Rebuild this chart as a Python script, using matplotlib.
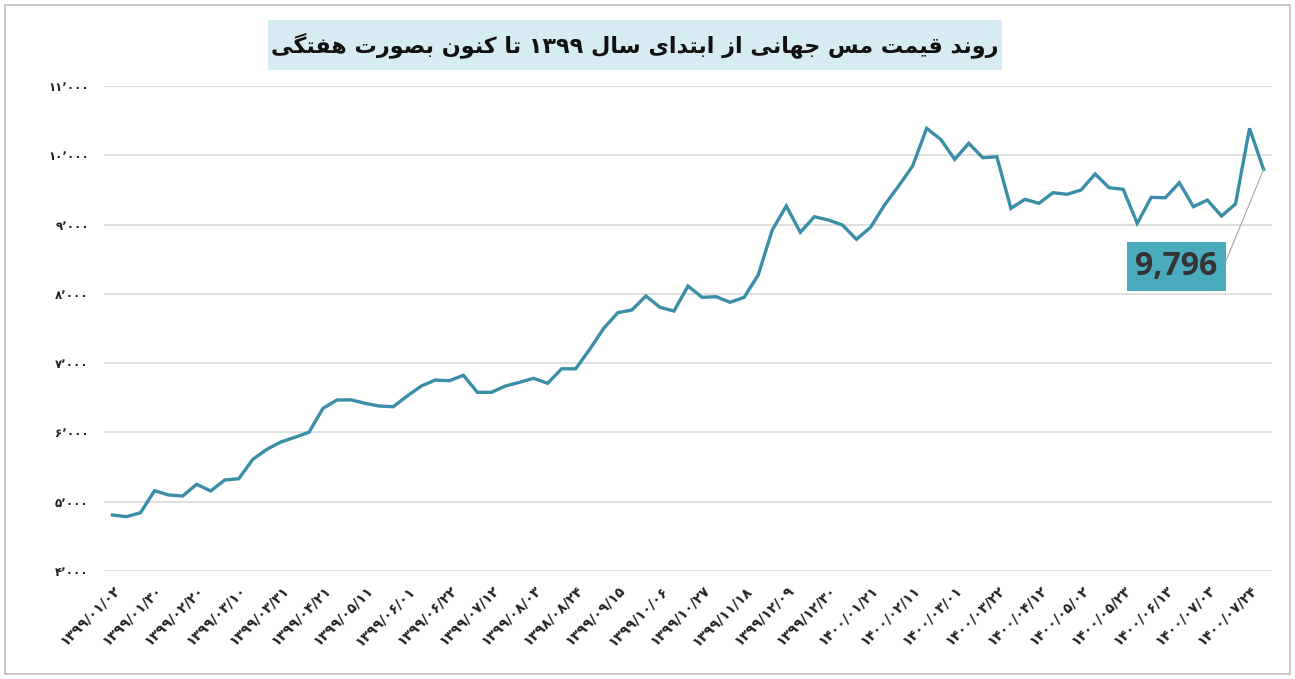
import matplotlib
matplotlib.use('Agg')
import matplotlib.pyplot as plt
from matplotlib.patches import Rectangle

plt.rcParams['font.family'] = ['DejaVu Sans']

# قیمت هفتگی مس (دلار بر تن)
prices = [4808, 4784, 4841, 5159, 5097, 5082, 5251, 5155, 5313, 5332,
          5612, 5756, 5862, 5930, 6002, 6348, 6468, 6470, 6420, 6381,
          6371, 6526, 6670, 6756, 6746, 6824, 6579, 6579, 6670, 6723,
          6781, 6709, 6919, 6919, 7200, 7503, 7728, 7767, 7969, 7806,
          7752, 8113, 7950, 7959, 7878, 7950, 8272, 8921, 9268, 8888,
          9113, 9066, 8994, 8787, 8960, 9282, 9556, 9845, 10389, 10230,
          9942, 10173, 9965, 9979, 9234, 9364, 9307, 9460, 9437, 9499,
          9730, 9532, 9509, 9018, 9393, 9387, 9604, 9258, 9354, 9123,
          9297, 10389, 9796]

# برچسب تاریخ ها (هر سه هفته یک برچسب)
date_labels = ['۱۳۹۹/۰۱/۰۲', '۱۳۹۹/۰۱/۳۰', '۱۳۹۹/۰۲/۲۰', '۱۳۹۹/۰۳/۱۰',
               '۱۳۹۹/۰۳/۳۱', '۱۳۹۹/۰۴/۲۱', '۱۳۹۹/۰۵/۱۱', '۱۳۹۹/۰۶/۰۱',
               '۱۳۹۹/۰۶/۲۲', '۱۳۹۹/۰۷/۱۲', '۱۳۹۹/۰۸/۰۳', '۱۳۹۸/۰۸/۲۴',
               '۱۳۹۹/۰۹/۱۵', '۱۳۹۹/۱۰/۰۶', '۱۳۹۹/۱۰/۲۷', '۱۳۹۹/۱۱/۱۸',
               '۱۳۹۹/۱۲/۰۹', '۱۳۹۹/۱۲/۳۰', '۱۴۰۰/۰۱/۲۱', '۱۴۰۰/۰۲/۱۱',
               '۱۴۰۰/۰۳/۰۱', '۱۴۰۰/۰۳/۲۲', '۱۴۰۰/۰۴/۱۲', '۱۴۰۰/۰۵/۰۲',
               '۱۴۰۰/۰۵/۲۳', '۱۴۰۰/۰۶/۱۳', '۱۴۰۰/۰۷/۰۳', '۱۴۰۰/۰۷/۲۴']
label_step = 3

y_ticks = [4000, 5000, 6000, 7000, 8000, 9000, 10000, 11000]

title = 'روند قیمت مس جهانی از ابتدای سال ۱۳۹۹ تا کنون بصورت هفتگی'
last_label = '9,796'

# شکل های حروف: (تنها، پایانی، آغازی، میانی)
FORMS = {
    'ا': ('\uFE8D', '\uFE8E', None, None),
    'ب': ('\uFE8F', '\uFE90', '\uFE91', '\uFE92'),
    'ت': ('\uFE95', '\uFE96', '\uFE97', '\uFE98'),
    'ج': ('\uFE9D', '\uFE9E', '\uFE9F', '\uFEA0'),
    'د': ('\uFEA9', '\uFEAA', None, None),
    'ر': ('\uFEAD', '\uFEAE', None, None),
    'ز': ('\uFEAF', '\uFEB0', None, None),
    'س': ('\uFEB1', '\uFEB2', '\uFEB3', '\uFEB4'),
    'ص': ('\uFEB9', '\uFEBA', '\uFEBB', '\uFEBC'),
    'ف': ('\uFED1', '\uFED2', '\uFED3', '\uFED4'),
    'ق': ('\uFED5', '\uFED6', '\uFED7', '\uFED8'),
    'ل': ('\uFEDD', '\uFEDE', '\uFEDF', '\uFEE0'),
    'م': ('\uFEE1', '\uFEE2', '\uFEE3', '\uFEE4'),
    'ن': ('\uFEE5', '\uFEE6', '\uFEE7', '\uFEE8'),
    'ه': ('\uFEE9', '\uFEEA', '\uFEEB', '\uFEEC'),
    'و': ('\uFEED', '\uFEEE', None, None),
    'ی': ('\uFBFC', '\uFBFD', '\uFBFE', '\uFBFF'),
    'ک': ('\uFB8E', '\uFB8F', '\uFB90', '\uFB91'),
    'گ': ('\uFB92', '\uFB93', '\uFB94', '\uFB95'),
}


def shape_word(w):
    out = []
    for i, ch in enumerate(w):
        f = FORMS.get(ch)
        if f is None:
            out.append(ch)
            continue
        prev = FORMS.get(w[i - 1]) if i > 0 else None
        nxt = FORMS.get(w[i + 1]) if i + 1 < len(w) else None
        jp = prev is not None and prev[2] is not None
        jn = nxt is not None and f[2] is not None
        if jp and jn:
            out.append(f[3])
        elif jp:
            out.append(f[1])
        elif jn:
            out.append(f[2])
        else:
            out.append(f[0])
    return ''.join(out)


def rtl(text):
    res = []
    for w in text.split(' '):
        if any(ch in FORMS for ch in w):
            res.append(shape_word(w)[::-1])
        else:
            res.append(w)
    return ' '.join(res[::-1])


def fa_num(n):
    s = '{:,}'.format(n).replace(',', '٬')
    return s.translate(str.maketrans('0123456789', '۰۱۲۳۴۵۶۷۸۹'))


fig = plt.figure(figsize=(12.95, 6.79), dpi=100)
ax = fig.add_axes([104 / 1295, 1 - 571 / 679, 1168 / 1295, 485 / 679])

x = list(range(len(prices)))
ax.plot(x, prices, color='#3a8ea7', lw=2.4, solid_joinstyle='miter', zorder=3)

ax.set_xlim(-0.6, len(prices) - 0.4)
ax.set_ylim(4000, 11000)
ax.set_yticks(y_ticks)
ax.set_yticklabels([fa_num(v) for v in y_ticks], fontsize=8.5, fontweight='bold', color='#222222')
ax.set_xticks(x[::label_step])
ax.set_xticklabels(date_labels, rotation=45, ha='right', va='top', rotation_mode='anchor',
                   fontsize=10, fontweight='bold', color='#222222')
ax.tick_params(axis='both', length=0)
ax.tick_params(axis='y', pad=11)
ax.tick_params(axis='x', pad=9)
ax.grid(axis='y', color='#d9d9d9', lw=1.2)
ax.set_axisbelow(True)
for s in ax.spines.values():
    s.set_visible(False)

# برچسب آخرین قیمت
ax.annotate(last_label, xy=(x[-1], prices[-1]), xytext=(-87, -97), textcoords='offset pixels',
            ha='center', va='center', fontsize=23, fontweight='bold', color='#333333',
            family=['Open Sans', 'DejaVu Sans'],
            bbox=dict(boxstyle='square,pad=0.26', fc='#4aabbd', ec='none'),
            arrowprops=dict(arrowstyle='-', color='#a6a6a6', lw=0.8, shrinkA=0, shrinkB=0,
                            relpos=(1, 0.5),
                            connectionstyle='arc,angleA=0,armA=6,angleB=0,armB=0,rad=0'))

# عنوان
fig.patches.append(Rectangle((268 / 1295, 1 - 70 / 679), 734 / 1295, 50 / 679,
                             transform=fig.transFigure, fc='#d7ebf2', ec='none'))
fig.text(635 / 1295, 1 - 45 / 679, rtl(title), ha='center', va='center',
         fontsize=16, fontweight='bold', color='#111111')

# کادر دور نمودار
fig.patches.append(Rectangle((5 / 1295, 5 / 679), 1285 / 1295, 669 / 679,
                             transform=fig.transFigure, fill=False, ec='#bfbfbf', lw=1.2))

plt.savefig('out.png', dpi=100)
